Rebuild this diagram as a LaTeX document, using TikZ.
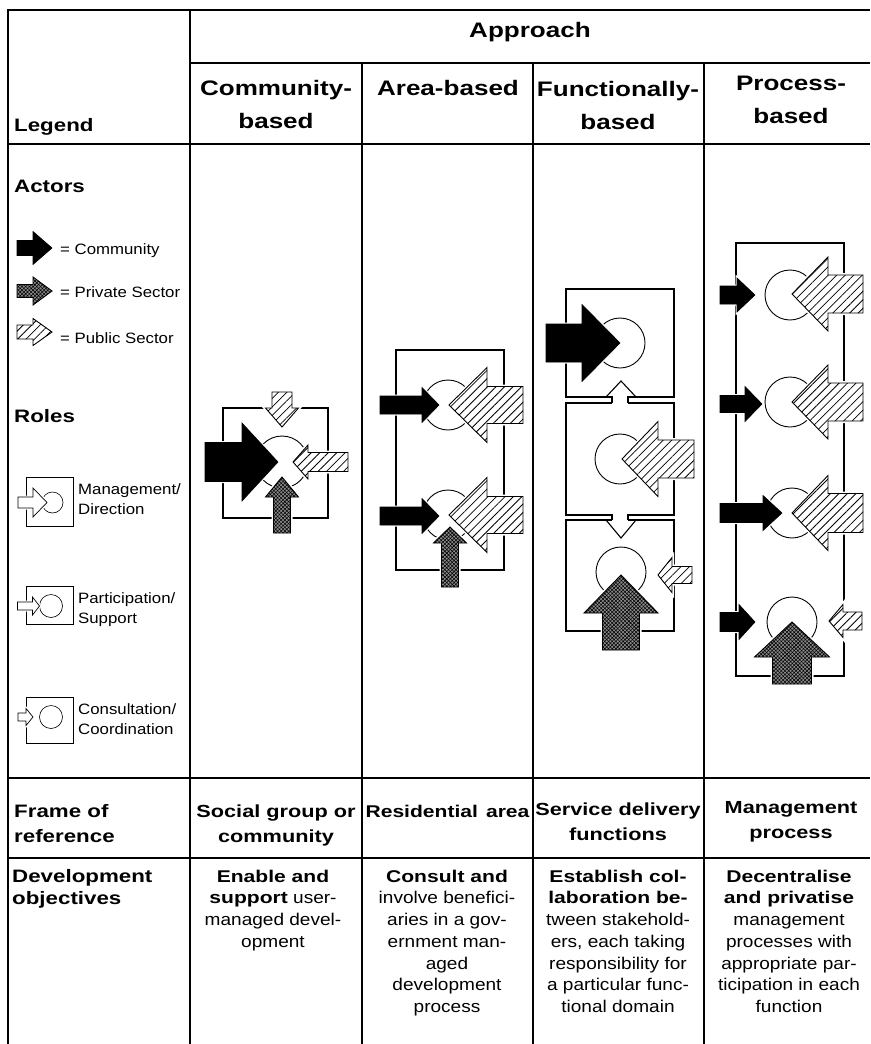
\documentclass[tikz,border=0pt]{standalone}
\usepackage{fontspec}
\setmainfont{Liberation Sans}[FakeStretch=1.12]
\newfontfamily\hfont{Liberation Sans}[FakeStretch=1.24]
\usetikzlibrary{patterns.meta}
\newcommand{\B}[1]{{\hfont\bfseries #1}}
% block arrow: #1 style, #2 tip, #3 angle, #4 length, #5 shaft half width, #6 head half width, #7 head length
\newcommand{\barrow}[7]{%
  \begin{scope}[shift={#2}, rotate=#3]
    \path[#1] (0,0) -- (-#7,#6) -- (-#7,#5) -- (-#4,#5) -- (-#4,-#5) -- (-#7,-#5) -- (-#7,-#6) -- cycle;
  \end{scope}}
\begin{document}
\begin{tikzpicture}[x=1pt, y=-1pt,
  tbl/.style={line width=1.6pt},
  ubox/.style={line width=1.1pt},
  rbox/.style={line width=0.6pt},
  circ/.style={line width=0.9pt},
  rcirc/.style={line width=0.6pt},
  comm/.style={preaction={draw=white, line width=3pt}, fill=black, draw=black, line width=0.6pt},
  priv/.style={preaction={draw=white, line width=4pt}, preaction={fill=black!45}, pattern={Hatch[angle=45,distance=2.6pt,line width=0.55pt]}, pattern color=black, draw=black, line width=0.9pt},
  pub/.style={preaction={draw=white, line width=4pt}, preaction={fill=white}, pattern={Lines[angle=45,distance=6pt,line width=0.8pt]}, pattern color=black, draw=black, line width=0.9pt},
  role/.style={preaction={draw=white, line width=3pt}, fill=white, draw=black, line width=0.7pt},
  hd/.style={font=\hfont\bfseries\fontsize{21}{33}\selectfont, inner sep=0pt, align=center},
  lab/.style={font=\hfont\bfseries\fontsize{18}{25}\selectfont, inner sep=0pt, align=left},
  labc/.style={font=\hfont\bfseries\fontsize{17.5}{25}\selectfont, inner sep=0pt, align=center},
  dlab/.style={font=\hfont\bfseries\fontsize{18}{22}\selectfont, inner sep=0pt, align=left},
  desc/.style={font=\fontsize{17}{21.7}\selectfont, inner sep=0pt, align=center},
  small/.style={font=\fontsize{15}{20.5}\selectfont, inner sep=0pt, align=left}
]
\useasboundingbox (0,0) rectangle (870,1044);

% ---------- table ----------
\draw[tbl] (8,1044) -- (8,10) -- (870,10);
\draw[tbl] (190,10) -- (190,1044);
\draw[tbl] (190,63) -- (870,63);
\draw[tbl] (8,144) -- (870,144);
\draw[tbl] (362,63) -- (362,1044);
\draw[tbl] (533,63) -- (533,1044);
\draw[tbl] (704,63) -- (704,1044);
\draw[tbl] (8,778) -- (870,778);
\draw[tbl] (8,858) -- (870,858);

% ---------- header ----------
\node[hd, anchor=base] (approach) at (530,37) {Approach};
\node[hd, anchor=north] (hcomm) at (276,71.9) {\strut Community-\\based};
\node[hd, anchor=base] (harea) at (448,95) {Area-based};
\node[hd, anchor=north] (hfunc) at (618,72.9) {\strut Functionally-\\based};
\node[hd, anchor=north] (hproc) at (791,66.9) {\strut Process-\\based};
\node[lab, anchor=base west] (legend) at (14,131) {Legend};

% ---------- legend ----------
\node[lab, anchor=base west] (actors) at (14,192) {Actors};
\barrow{comm}{(52,248)}{0}{35}{7.5}{16.5}{19}
\barrow{priv}{(52,291)}{0}{35}{6.5}{14}{19}
\barrow{pub}{(52,332)}{0}{35}{7}{13.5}{19}
\node[small, anchor=base west] (lcomm) at (60,254) {= Community};
\node[small, anchor=base west] (lpriv) at (60,297) {= Private Sector};
\node[small, anchor=base west] (lpub) at (60,343) {= Public Sector};

\node[lab, anchor=base west] (roles) at (14,422) {Roles};
% management
\draw[rbox] (26,477) rectangle (73,526);
\draw[rcirc] (52.5,502.5) circle[radius=10.5pt];
\barrow{role}{(47,502.5)}{0}{29}{5.5}{14.5}{14}
\node[small, anchor=north west] (rman) at (78,479.65) {\strut Management/\\Direction};
% participation
\draw[rbox] (26,586) rectangle (73,624);
\draw[rcirc] (51,606) circle[radius=11.5pt];
\barrow{role}{(39.5,606)}{0}{22}{4}{9}{7}
\node[small, anchor=north west] (rpart) at (78,588.65) {\strut Participation/\\Support};
% consultation
\draw[rbox] (26,697) rectangle (73,743);
\draw[rcirc] (51,717) circle[radius=11.5pt];
\barrow{role}{(33,717)}{0}{15}{4}{8.5}{7}
\node[small, anchor=north west] (rcons) at (78,699.65) {\strut Consultation/\\Coordination};

% ---------- community-based ----------
\draw[ubox] (223,408) rectangle (328,518);
\draw[circ] (282,462) circle[radius=26pt];
\barrow{comm}{(278,462)}{0}{73}{19.5}{39}{36}
\barrow{pub}{(282,427)}{-90}{35}{10}{16.5}{19}
\barrow{pub}{(293,462)}{180}{55}{9.5}{17}{15}
\barrow{priv}{(282,477)}{90}{56}{8.5}{16.5}{20}

% ---------- area-based ----------
\draw[ubox] (396,350) rectangle (504,570);
\draw[circ] (448,405) circle[radius=25pt];
\barrow{comm}{(439,405)}{0}{59}{9}{17.5}{17}
\barrow{pub}{(449,405)}{180}{74}{18.5}{37.5}{38}
\draw[circ] (448,515) circle[radius=25pt];
\barrow{comm}{(439,516)}{0}{59}{9}{17.5}{17}
\barrow{pub}{(449,515)}{180}{74}{18.5}{37.5}{38}
\barrow{priv}{(450,527)}{90}{60}{8.5}{16.5}{16}

% ---------- functionally-based ----------
\draw[ubox] (612,403) -- (612,397) -- (566,397) -- (566,289) -- (674,289) -- (674,397) -- (628,397) -- (628,403);
\draw[ubox] (606,397) -- (621,381) -- (636,397);
\draw[ubox] (612,403) -- (566,403) -- (566,515) -- (612,515) -- (612,520);
\draw[ubox] (628,403) -- (674,403) -- (674,515) -- (628,515) -- (628,520);
\draw[ubox] (612,520) -- (566,520) -- (566,631) -- (674,631) -- (674,520) -- (628,520);
\draw[ubox] (606,520) -- (621,538) -- (636,520);
\draw[circ] (620,343) circle[radius=25pt];
\barrow{comm}{(620,343)}{0}{74}{19}{38.5}{38}
\draw[circ] (620,459) circle[radius=25pt];
\barrow{pub}{(622,459)}{180}{72}{19}{37.5}{36}
\draw[circ] (621,572) circle[radius=25pt];
\barrow{priv}{(621,575)}{90}{75}{18.5}{37}{38}
\barrow{pub}{(658,575)}{180}{34}{8.5}{17.5}{14}

% ---------- process-based ----------
\draw[ubox] (736,243) rectangle (844,676);
\draw[circ] (790,295) circle[radius=25pt];
\barrow{comm}{(755,295)}{0}{35}{9}{17}{18}
\barrow{pub}{(792,294)}{180}{71}{19}{37}{36}
\draw[circ] (790,402) circle[radius=25pt];
\barrow{comm}{(762,404)}{0}{42}{8.5}{17.5}{17}
\barrow{pub}{(792,402)}{180}{71}{19}{37}{36}
\draw[circ] (792,513) circle[radius=25pt];
\barrow{comm}{(782,513)}{0}{62}{9.5}{17.5}{19}
\barrow{pub}{(792,513)}{180}{71}{19.5}{37.5}{36}
\draw[circ] (792,622) circle[radius=25pt];
\barrow{comm}{(755,622)}{0}{35}{9.5}{17.5}{16}
\barrow{pub}{(829,621)}{180}{33}{9}{16.5}{14}
\barrow{priv}{(792,622)}{90}{62}{19.5}{37.5}{35}

% ---------- frame of reference ----------
\node[lab, anchor=north west] (frame) at (14,799.5) {\strut Frame of\\reference};
\node[labc, anchor=north] (fcomm) at (276,799.5) {\strut Social group or\\community};
\node[labc, font=\hfont\bfseries\fontsize{17}{25}\selectfont, anchor=base] (farea) at (447.5,817) {Residential\hspace{8pt}area};
\node[labc, anchor=north] (ffunc) at (618,797.5) {\strut Service delivery\\functions};
\node[labc, anchor=north] (fproc) at (791,795.5) {\strut Management\\process};

% ---------- development objectives ----------
\node[dlab, anchor=north west] (dev) at (12,866.6) {\strut Development\\objectives};
\node[desc, anchor=north] (dcomm) at (273,866.8) {\strut\B{Enable and}\\\B{support} user-\\managed devel-\\opment};
\node[desc, anchor=north] (darea) at (447,866.8) {\strut\B{Consult and}\\involve benefici-\\aries in a gov-\\ernment man-\\aged\\development\\process};
\node[desc, anchor=north] (dfunc) at (618,866.8) {\strut\B{Establish col-}\\\B{laboration be-}\\tween stakehold-\\ers, each taking\\responsibility for\\a particular func-\\tional domain};
\node[desc, anchor=north] (dproc) at (789,866.8) {\strut\B{Decentralise}\\\B{and privatise}\\management\\processes with\\appropriate par-\\ticipation in each\\function};
\end{tikzpicture}
\end{document}
